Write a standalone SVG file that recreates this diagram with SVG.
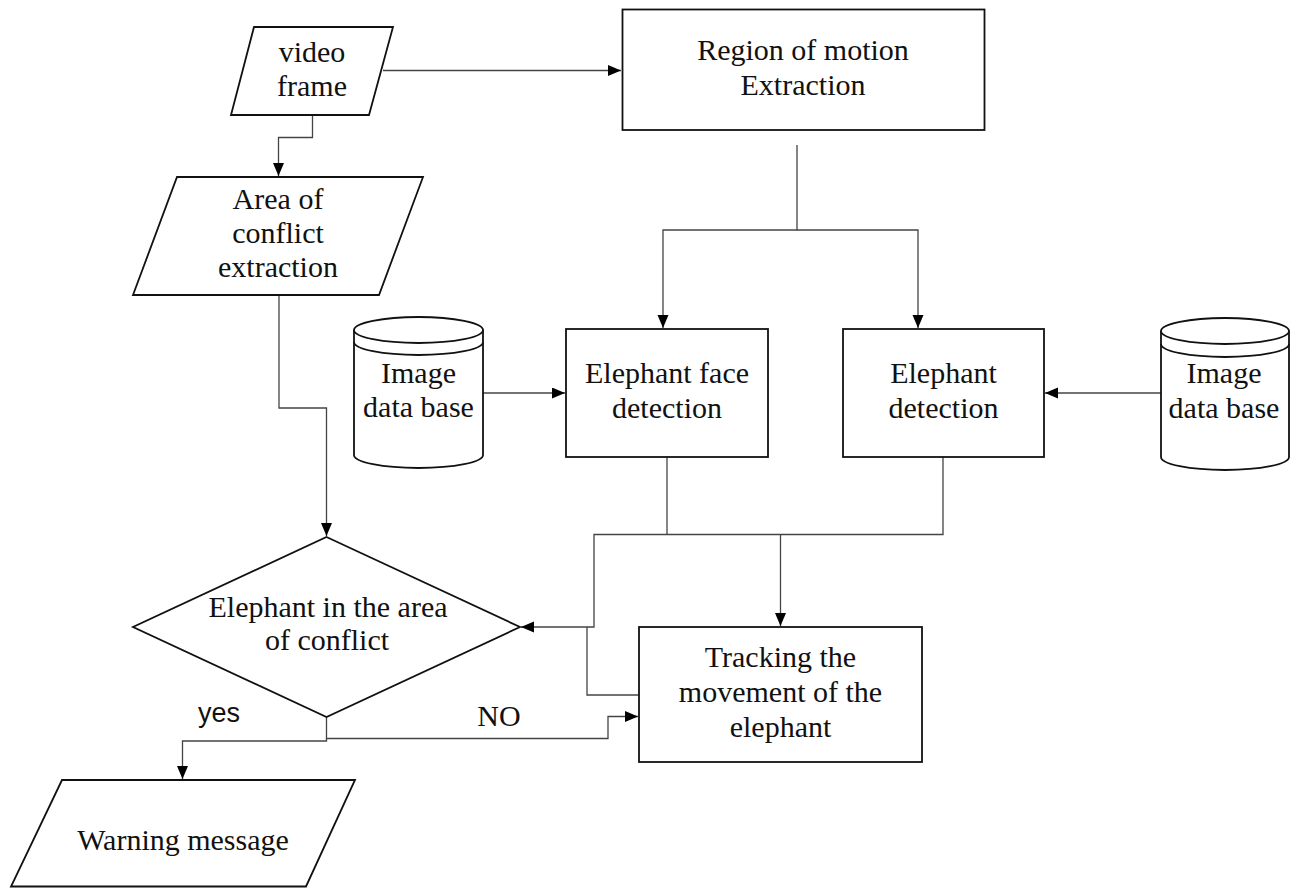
<svg xmlns="http://www.w3.org/2000/svg" width="1291" height="888" viewBox="0 0 1291 888">
<style>
.shape{fill:#fff;stroke:#111;stroke-width:1.8}
.conn{fill:none;stroke:#444;stroke-width:1.3}
.t{font-family:"Liberation Serif","Times New Roman",serif;font-size:30px;fill:#111;text-anchor:middle}
.s{font-family:"Liberation Sans",Arial,sans-serif;font-size:27px;fill:#111;text-anchor:middle}
</style>
<defs>
<marker id="arr" markerUnits="userSpaceOnUse" markerWidth="14" markerHeight="12" refX="13" refY="5.5" orient="auto">
<path d="M0,0 L13,5.5 L0,11 z" fill="#000"/>
</marker>
</defs>
<rect width="1291" height="888" fill="#fff"/>
<g id="connectors">
<path class="conn" d="M383,70.5 H621" marker-end="url(#arr)"/>
<path class="conn" d="M312.5,115 V137.5 H278.5 V176" marker-end="url(#arr)"/>
<path class="conn" d="M797,145 V230 H663 V328" marker-end="url(#arr)"/>
<path class="conn" d="M797,230 H918 V328" marker-end="url(#arr)"/>
<path class="conn" d="M483,393 H565" marker-end="url(#arr)"/>
<path class="conn" d="M1161,393 H1045" marker-end="url(#arr)"/>
<path class="conn" d="M279,295 V408 H326.5 V536" marker-end="url(#arr)"/>
<path class="conn" d="M667,457 V534.5"/>
<path class="conn" d="M943,457 V534.5 H594 V627 H521" marker-end="url(#arr)"/>
<path class="conn" d="M780.5,534.5 V626" marker-end="url(#arr)"/>
<path class="conn" d="M639,695 H587 V627"/>
<path class="conn" d="M326.5,717 V738.5 H608 V716.5 H638" marker-end="url(#arr)"/>
<path class="conn" d="M326.5,738.5 V741 H182.5 V779" marker-end="url(#arr)"/>
<text class="s" x="219" y="722">yes</text>
<text class="t" x="499" y="726">NO</text>
</g>
<g id="video-frame">
<polygon class="shape" points="254,27 393,27 369,115 231,115"/>
<text class="t" x="312" y="62">video</text>
<text class="t" x="312" y="96">frame</text>
</g>
<g id="region-motion">
<rect class="shape" x="622.5" y="9.5" width="362" height="120.5"/>
<text class="t" x="803" y="60">Region of motion</text>
<text class="t" x="803" y="95">Extraction</text>
</g>
<g id="area-conflict">
<polygon class="shape" points="177,177 423,177 379,295 133,295"/>
<text class="t" x="278" y="209">Area of</text>
<text class="t" x="278" y="243">conflict</text>
<text class="t" x="278" y="277">extraction</text>
</g>
<g id="db-left">
<path class="shape" d="M354,330 V455 A64.5,13 0 0 0 483,455 V330"/>
<ellipse class="shape" cx="418.5" cy="330" rx="64.5" ry="13"/>
<path class="shape" style="fill:none" d="M354,342 A64.5,13 0 0 0 483,342"/>
<text class="t" x="418.5" y="383">Image</text>
<text class="t" x="418.5" y="417">data base</text>
</g>
<g id="face-detection">
<rect class="shape" x="566" y="329" width="202" height="128"/>
<text class="t" x="667" y="383">Elephant face</text>
<text class="t" x="667" y="418">detection</text>
</g>
<g id="elephant-detection">
<rect class="shape" x="843" y="329" width="201" height="128"/>
<text class="t" x="943.5" y="383">Elephant</text>
<text class="t" x="943.5" y="418">detection</text>
</g>
<g id="db-right">
<path class="shape" d="M1161,331 V457 A64,13 0 0 0 1289,457 V331"/>
<ellipse class="shape" cx="1225" cy="331" rx="64" ry="13"/>
<path class="shape" style="fill:none" d="M1161,344 A64,13 0 0 0 1289,344"/>
<text class="t" x="1224" y="383">Image</text>
<text class="t" x="1224" y="418">data base</text>
</g>
<g id="decision">
<polygon class="shape" points="326.5,537 520,627 326.5,717 133,627"/>
<text class="t" x="328" y="617">Elephant in the area</text>
<text class="t" x="327" y="650">of conflict</text>
</g>
<g id="tracking">
<rect class="shape" x="639" y="627" width="283" height="135"/>
<text class="t" x="780.5" y="667">Tracking the</text>
<text class="t" x="780.5" y="702">movement of the</text>
<text class="t" x="780.5" y="737">elephant</text>
</g>
<g id="warning">
<polygon class="shape" points="62,780 355,780 306,886.5 11,886.5"/>
<text class="t" x="183" y="850">Warning message</text>
</g>
</svg>
